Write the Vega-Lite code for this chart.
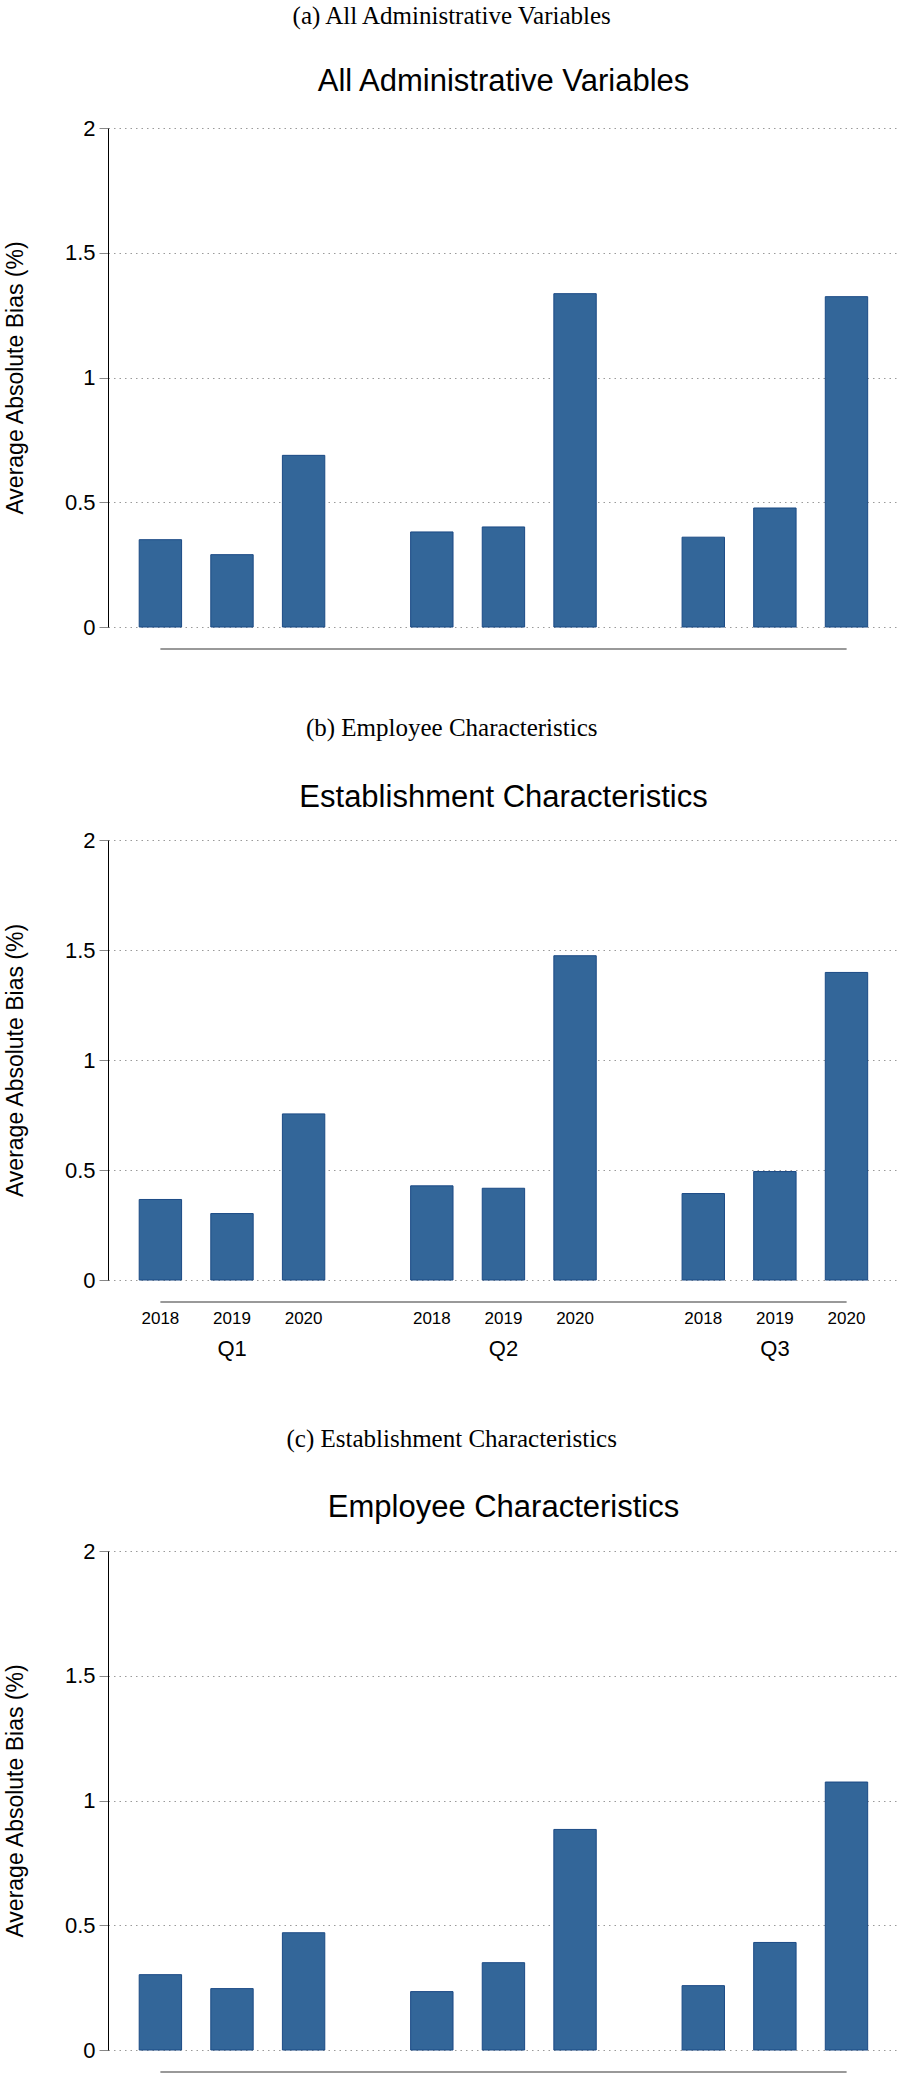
{
  "$schema": "https://vega.github.io/schema/vega-lite/v6.json",
  "background": "white",
  "padding": {"left": 4, "top": 4, "right": 0, "bottom": 0},
  "spacing": 66,
  "datasets": {
    "bias": [
      {"panel": "a", "quarter": "Q1", "year": "2018", "value": 0.350},
      {"panel": "a", "quarter": "Q1", "year": "2019", "value": 0.290},
      {"panel": "a", "quarter": "Q1", "year": "2020", "value": 0.688},
      {"panel": "a", "quarter": "Q2", "year": "2018", "value": 0.381},
      {"panel": "a", "quarter": "Q2", "year": "2019", "value": 0.401},
      {"panel": "a", "quarter": "Q2", "year": "2020", "value": 1.336},
      {"panel": "a", "quarter": "Q3", "year": "2018", "value": 0.360},
      {"panel": "a", "quarter": "Q3", "year": "2019", "value": 0.477},
      {"panel": "a", "quarter": "Q3", "year": "2020", "value": 1.324},
      {"panel": "b", "quarter": "Q1", "year": "2018", "value": 0.366},
      {"panel": "b", "quarter": "Q1", "year": "2019", "value": 0.302},
      {"panel": "b", "quarter": "Q1", "year": "2020", "value": 0.755},
      {"panel": "b", "quarter": "Q2", "year": "2018", "value": 0.428},
      {"panel": "b", "quarter": "Q2", "year": "2019", "value": 0.417},
      {"panel": "b", "quarter": "Q2", "year": "2020", "value": 1.474},
      {"panel": "b", "quarter": "Q3", "year": "2018", "value": 0.393},
      {"panel": "b", "quarter": "Q3", "year": "2019", "value": 0.493},
      {"panel": "b", "quarter": "Q3", "year": "2020", "value": 1.398},
      {"panel": "c", "quarter": "Q1", "year": "2018", "value": 0.302},
      {"panel": "c", "quarter": "Q1", "year": "2019", "value": 0.246},
      {"panel": "c", "quarter": "Q1", "year": "2020", "value": 0.470},
      {"panel": "c", "quarter": "Q2", "year": "2018", "value": 0.234},
      {"panel": "c", "quarter": "Q2", "year": "2019", "value": 0.350},
      {"panel": "c", "quarter": "Q2", "year": "2020", "value": 0.884},
      {"panel": "c", "quarter": "Q3", "year": "2018", "value": 0.258},
      {"panel": "c", "quarter": "Q3", "year": "2019", "value": 0.431},
      {"panel": "c", "quarter": "Q3", "year": "2020", "value": 1.074}
    ]
  },
  "config": {
    "font": "Liberation Sans",
    "view": {"stroke": null},
    "axis": {"labelColor": "black", "titleColor": "black", "labelFont": "Liberation Sans", "titleFont": "Liberation Sans", "titleFontWeight": "normal"},
    "title": {"color": "black", "fontWeight": "normal"}
  },
  "vconcat": [
    {
      "title": {"text": "(a) All Administrative Variables", "font": "Liberation Serif", "fontSize": 25, "fontWeight": "normal", "anchor": "middle", "frame": "bounds", "offset": 37},
      "vconcat": [
        {
          "title": {"text": "All Administrative Variables", "font": "Liberation Sans", "fontSize": 31, "fontWeight": "normal", "frame": "group", "anchor": "middle", "offset": 19},
          "width": 791,
          "height": 499,
          "data": {"name": "bias"},
          "transform": [{"filter": "datum.panel === 'a'"}],
          "encoding": {
            "x": {"field": "quarter", "type": "nominal", "scale": {"paddingInner": 0.472, "paddingOuter": 0.193}, "axis": null},
            "y": {"field": "value", "type": "quantitative", "scale": {"domain": [0, 2], "nice": false}, "axis": {"title": "Average Absolute Bias (%)", "values": [0, 0.5, 1, 1.5, 2], "format": "~g", "domainColor": "black", "domainWidth": 1, "tickColor": "#888888", "tickSize": 9, "labelFontSize": 22, "labelPadding": 4, "grid": true, "gridColor": "#9a9a9a", "gridDash": [1.5, 4], "titleFontSize": 23, "titlePadding": 37}}
          },
          "layer": [
            {
              "mark": {"type": "bar", "fill": "#336699", "stroke": "#1b4a85", "strokeWidth": 1},
              "encoding": {"xOffset": {"field": "year", "type": "nominal", "scale": {"range": [-21.2, 164.4], "paddingInner": 0.408, "paddingOuter": 0}}}
            },
            {
              "transform": [{"filter": "datum.quarter === 'Q1' && datum.year === '2018'"}],
              "mark": {"type": "rule", "color": "#999999", "strokeWidth": 2, "yOffset": 22},
              "encoding": {
                "x": {"datum": "Q1", "type": "nominal", "bandPosition": 0, "axis": null},
                "x2": {"datum": "Q3", "bandPosition": 1},
                "y": {"datum": 0}
              }
            }
          ]
        }
      ]
    },
    {
      "spacing": 68,
      "vconcat": [
        {
          "title": {"text": "(b) Employee Characteristics", "font": "Liberation Serif", "fontSize": 25, "fontWeight": "normal", "anchor": "middle", "frame": "bounds", "offset": 41},
          "vconcat": [
            {
              "title": {"text": "Establishment Characteristics", "font": "Liberation Sans", "fontSize": 31, "fontWeight": "normal", "frame": "group", "anchor": "middle", "offset": 15},
              "width": 791,
              "height": 440,
              "data": {"name": "bias"},
              "transform": [{"filter": "datum.panel === 'b'"}],
              "encoding": {
                "x": {"field": "quarter", "type": "nominal", "scale": {"paddingInner": 0.472, "paddingOuter": 0.193}, "axis": {"title": null, "domain": false, "labels": true, "labelFontSize": 22, "labelPadding": 36, "labelAngle": 0, "ticks": false, "tickSize": 0, "offset": 22, "grid": false}},
                "y": {"field": "value", "type": "quantitative", "scale": {"domain": [0, 2], "nice": false}, "axis": {"title": "Average Absolute Bias (%)", "values": [0, 0.5, 1, 1.5, 2], "format": "~g", "domainColor": "black", "domainWidth": 1, "tickColor": "#888888", "tickSize": 9, "labelFontSize": 22, "labelPadding": 4, "grid": true, "gridColor": "#9a9a9a", "gridDash": [1.5, 4], "titleFontSize": 23, "titlePadding": 37}}
              },
              "layer": [
                {
                  "mark": {"type": "bar", "fill": "#336699", "stroke": "#1b4a85", "strokeWidth": 1},
                  "encoding": {"xOffset": {"field": "year", "type": "nominal", "scale": {"range": [-21.2, 164.4], "paddingInner": 0.408, "paddingOuter": 0}}}
                },
                {
                  "mark": {"type": "text", "font": "Liberation Sans", "fontSize": 17, "color": "black", "baseline": "alphabetic", "dy": 44},
                  "encoding": {"xOffset": {"field": "year", "type": "nominal"}, "y": {"datum": 0}, "text": {"field": "year"}}
                },
                {
                  "transform": [{"filter": "datum.quarter === 'Q1' && datum.year === '2018'"}],
                  "mark": {"type": "rule", "color": "#999999", "strokeWidth": 2, "yOffset": 22},
                  "encoding": {
                    "x": {"datum": "Q1", "type": "nominal", "bandPosition": 0, "axis": {"title": null, "domain": false, "labels": true, "labelFontSize": 22, "labelPadding": 36, "labelAngle": 0, "ticks": false, "tickSize": 0, "offset": 22, "grid": false}},
                    "x2": {"datum": "Q3", "bandPosition": 1},
                    "y": {"datum": 0}
                  }
                }
              ]
            }
          ]
        },
        {
          "title": {"text": "(c) Establishment Characteristics", "font": "Liberation Serif", "fontSize": 25, "fontWeight": "normal", "anchor": "middle", "frame": "bounds", "offset": 40},
          "vconcat": [
            {
              "title": {"text": "Employee Characteristics", "font": "Liberation Sans", "fontSize": 31, "fontWeight": "normal", "frame": "group", "anchor": "middle", "offset": 16},
              "width": 791,
              "height": 499,
              "data": {"name": "bias"},
              "transform": [{"filter": "datum.panel === 'c'"}],
              "encoding": {
                "x": {"field": "quarter", "type": "nominal", "scale": {"paddingInner": 0.472, "paddingOuter": 0.193}, "axis": null},
                "y": {"field": "value", "type": "quantitative", "scale": {"domain": [0, 2], "nice": false}, "axis": {"title": "Average Absolute Bias (%)", "values": [0, 0.5, 1, 1.5, 2], "format": "~g", "domainColor": "black", "domainWidth": 1, "tickColor": "#888888", "tickSize": 9, "labelFontSize": 22, "labelPadding": 4, "grid": true, "gridColor": "#9a9a9a", "gridDash": [1.5, 4], "titleFontSize": 23, "titlePadding": 37}}
              },
              "layer": [
                {
                  "mark": {"type": "bar", "fill": "#336699", "stroke": "#1b4a85", "strokeWidth": 1},
                  "encoding": {"xOffset": {"field": "year", "type": "nominal", "scale": {"range": [-21.2, 164.4], "paddingInner": 0.408, "paddingOuter": 0}}}
                },
                {
                  "transform": [{"filter": "datum.quarter === 'Q1' && datum.year === '2018'"}],
                  "mark": {"type": "rule", "color": "#999999", "strokeWidth": 2, "yOffset": 22},
                  "encoding": {
                    "x": {"datum": "Q1", "type": "nominal", "bandPosition": 0, "axis": null},
                    "x2": {"datum": "Q3", "bandPosition": 1},
                    "y": {"datum": 0}
                  }
                }
              ]
            }
          ]
        }
      ]
    }
  ]
}
